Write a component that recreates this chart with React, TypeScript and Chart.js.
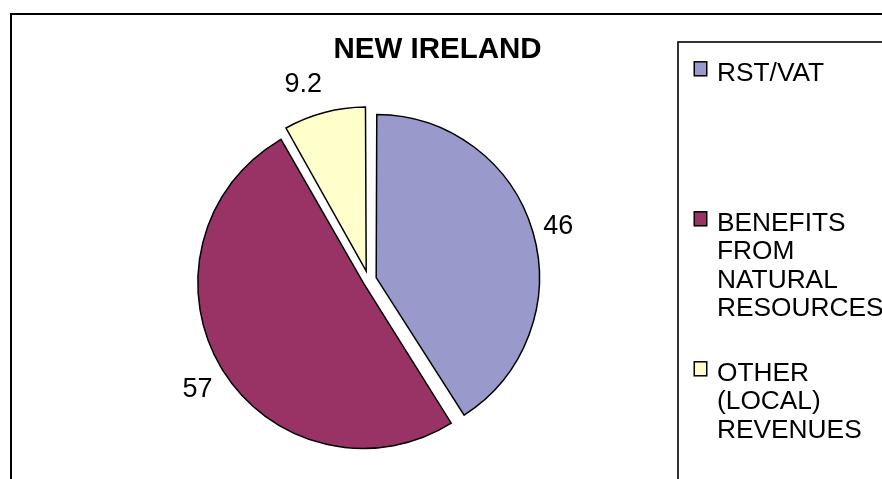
import React, { useEffect, useRef } from "react";
import { Chart, registerables } from "chart.js";

Chart.register(...registerables);

const chartTitle = "NEW IRELAND";
const categories = ["RST/VAT", "BENEFITS FROM NATURAL RESOURCES", "OTHER (LOCAL) REVENUES"];
const values = [46, 57, 9.2];
const colors = ["#9999CC", "#993366", "#FFFFCC"];
const explode = [32, 24, 36];

const FONT = '"Liberation Sans", Arial, Helvetica, sans-serif';

function wrapWords(ctx: CanvasRenderingContext2D, text: string, maxW: number): string[] {
  const words = text.split(" ");
  const lines: string[] = [];
  let cur = "";
  for (const w of words) {
    const test = cur ? cur + " " + w : w;
    if (cur && ctx.measureText(test).width > maxW) {
      lines.push(cur);
      cur = w;
    } else {
      cur = test;
    }
  }
  if (cur) lines.push(cur);
  return lines;
}

const decor = {
  id: "decor",
  beforeDraw(chart: any) {
    const ctx: CanvasRenderingContext2D = chart.ctx;
    ctx.save();
    ctx.fillStyle = "#ffffff";
    ctx.fillRect(0, 0, chart.width, chart.height);
    ctx.strokeStyle = "#000000";
    ctx.lineWidth = 2;
    ctx.strokeRect(11, 14, 1000, 1000);
    ctx.restore();
  },
  afterDraw(chart: any) {
    const ctx: CanvasRenderingContext2D = chart.ctx;
    ctx.save();
    ctx.fillStyle = "#000000";
    // title
    ctx.font = `bold 29.5px ${FONT}`;
    ctx.textAlign = "center";
    ctx.textBaseline = "alphabetic";
    ctx.fillText(chartTitle, 437.5, 57.5);

    // data labels (outside end)
    const meta = chart.getDatasetMeta(0);
    const labelSize = 27;
    ctx.font = `${labelSize}px ${FONT}`;
    meta.data.forEach((arc: any, i: number) => {
      const p = arc.getProps(["x", "y", "startAngle", "endAngle", "outerRadius"], true);
      const mid = (p.startAngle + p.endAngle) / 2;
      const r = p.outerRadius + 22.5;
      const c = Math.cos(mid);
      const s = Math.sin(mid);
      const ax = p.x + c * r;
      const ay = p.y + s * r;
      ctx.textAlign = c >= 0 ? "left" : "right";
      const cy = ay + s * 24 + 2;
      ctx.fillText(String(values[i]), ax, cy + (labelSize * 0.716) / 2);
    });

    // legend box
    ctx.strokeStyle = "#000000";
    ctx.lineWidth = 1.6;
    ctx.strokeRect(678, 42, 1000, 1000);

    const legSize = 26.3;
    ctx.font = `${legSize}px ${FONT}`;
    ctx.textAlign = "left";
    const textX = 717;
    const firstBaseline = 80.7;
    const pitch = 150;
    const lineH = 28.5;
    categories.forEach((cat, i) => {
      const base = firstBaseline + i * pitch;
      ctx.fillStyle = colors[i];
      ctx.fillRect(694.25, base - 18.9, 12.5, 14);
      ctx.lineWidth = 1.5;
      ctx.strokeStyle = "#000000";
      ctx.strokeRect(694.25, base - 18.9, 12.5, 14);
      ctx.fillStyle = "#000000";
      const lines = wrapWords(ctx, cat, 172);
      lines.forEach((ln, j) => ctx.fillText(ln, textX, base + j * lineH));
    });
    ctx.restore();
  },
};

export default function App() {
  const ref = useRef<HTMLCanvasElement | null>(null);
  useEffect(() => {
    if (!ref.current) return;
    const chart = new Chart(ref.current, {
      type: "pie",
      data: {
        labels: categories,
        datasets: [
          {
            data: values,
            backgroundColor: colors,
            borderColor: "#000000",
            borderWidth: 1.5,
            offset: explode,
            borderJoinStyle: "miter",
            radius: 159.5,
          } as any,
        ],
      },
      options: {
        responsive: false,
        animation: false,
        devicePixelRatio: 1,
        events: [],
        layout: { padding: { left: 168.5, right: 313.5, top: 100, bottom: 19.3 } },
        plugins: {
          legend: { display: false },
          title: { display: false },
          tooltip: { enabled: false },
        },
      } as any,
      plugins: [decor],
    });
    return () => chart.destroy();
  }, []);
  return (
    <div style={{ position: "absolute", left: 0, top: 0, width: 882, height: 479, overflow: "hidden" }}>
      <canvas ref={ref} width={882} height={479} style={{ display: "block" }} />
    </div>
  );
}
